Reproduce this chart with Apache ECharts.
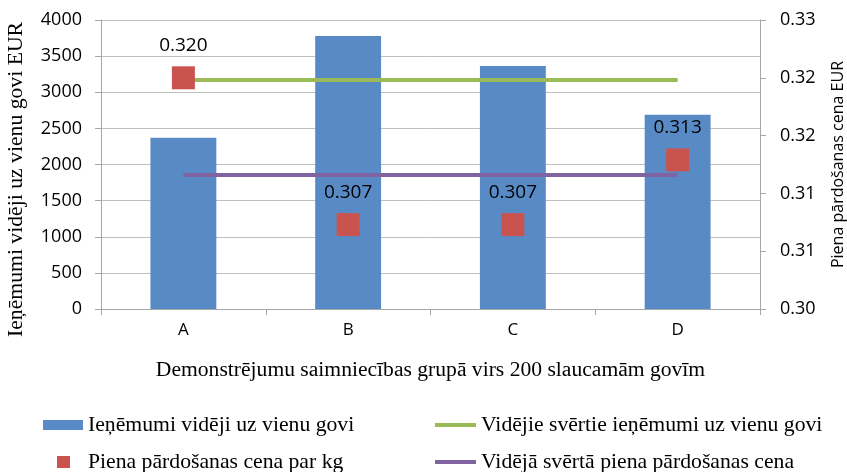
<!DOCTYPE html>
<html>
<head>
<meta charset="utf-8">
<script src="https://cdn.jsdelivr.net/npm/echarts@6/dist/echarts.min.js"></script>
<style>html,body{margin:0;padding:0;background:#fff;}#c{width:847px;height:472px;}</style>
</head>
<body>
<div id="c"></div>
<script>
const categories = ['A', 'B', 'C', 'D'];
const revenue = [2370, 3780, 3363, 2688];
const price = [0.3200, 0.3073, 0.3073, 0.3129];
const avgRevenue = [3170, 3170, 3170, 3170];
const avgPrice = [0.3116, 0.3116, 0.3116, 0.3116];
const rightTickLabels = ['0.30', '0.31', '0.31', '0.32', '0.32', '0.33'];

const names = {
  bar: 'Ieņēmumi vidēji uz vienu govi',
  scatter: 'Piena pārdošanas cena par kg',
  avgRev: 'Vidējie svērtie ieņēmumi uz vienu govi',
  avgPrice: 'Vidējā svērtā piena pārdošanas cena'
};

const serif = '"Liberation Serif", "Times New Roman", serif';
const sans = '"Open Sans", "Liberation Sans", sans-serif';
const legendText = { fontFamily: serif, fontSize: 21.7, color: '#000' };

const chart = echarts.init(document.getElementById('c'), null, { renderer: 'canvas' });
chart.setOption({
  animation: false,
  backgroundColor: '#fff',
  grid: { left: 101, right: 87, top: 20, bottom: 163, containLabel: false, outerBoundsMode: 'none' },
  legend: [
    { data: [names.bar], left: 43, top: 414, padding: 0, itemWidth: 40, itemHeight: 10, textStyle: legendText, icon: 'rect' },
    { data: [names.avgRev], left: 435, top: 414, padding: 0, itemWidth: 41, itemHeight: 4, textStyle: legendText, icon: 'rect' },
    { data: [names.scatter], left: 57, top: 451, padding: 0, itemWidth: 13, itemHeight: 12, textStyle: Object.assign({}, legendText, { padding: [0, 0, 0, 13] }), icon: 'rect' },
    { data: [names.avgPrice], left: 435, top: 451, padding: 0, itemWidth: 41, itemHeight: 4, textStyle: legendText, icon: 'rect' }
  ],
  xAxis: {
    type: 'category',
    data: categories,
    name: 'Demonstrējumu saimniecības grupā virs 200 slaucamām govīm',
    nameLocation: 'middle',
    nameGap: 50,
    nameTextStyle: { fontFamily: serif, fontSize: 21.6, color: '#000' },
    axisLine: { lineStyle: { color: '#A6A6A6', width: 1 } },
    axisTick: { show: true, length: 6, lineStyle: { color: '#A6A6A6' } },
    axisLabel: { fontFamily: sans, fontSize: 17, color: '#000', margin: 13 }
  },
  yAxis: [
    {
      type: 'value', min: 0, max: 4000, interval: 500,
      name: 'Ieņēmumi vidēji uz vienu govi EUR',
      nameLocation: 'middle', nameGap: 74, nameRotate: 90,
      nameTextStyle: { fontFamily: serif, fontSize: 21.7, color: '#000', padding: [0, 30, 0, 0] },
      axisLine: { show: true, lineStyle: { color: '#A6A6A6' } },
      axisTick: { show: true, length: 6, lineStyle: { color: '#A6A6A6' } },
      axisLabel: { fontFamily: sans, fontSize: 18, color: '#000', margin: 19, formatter: v => String(v) },
      splitLine: { lineStyle: { color: '#BFBFBF', width: 1 } }
    },
    {
      type: 'value', min: 0.3, max: 0.325, interval: 0.005, position: 'right',
      name: 'Piena pārdošanas cena EUR',
      nameLocation: 'middle', nameGap: 70, nameRotate: 90,
      nameTextStyle: { fontFamily: sans, fontSize: 16, color: '#000' },
      axisLine: { show: true, lineStyle: { color: '#A6A6A6' } },
      axisTick: { show: true, length: 6, lineStyle: { color: '#A6A6A6' } },
      axisLabel: {
        fontFamily: sans, fontSize: 18, color: '#000', margin: 20,
        formatter: v => rightTickLabels[Math.round((v - 0.3) / 0.005)]
      },
      splitLine: { show: false }
    }
  ],
  series: [
    {
      name: names.bar, type: 'bar', data: revenue, yAxisIndex: 0,
      barWidth: '40%', itemStyle: { color: '#588BC6' }, z: 1
    },
    {
      name: names.avgRev, type: 'line', data: avgRevenue, yAxisIndex: 0,
      symbol: 'none', lineStyle: { color: '#9BBB59', width: 4 }, itemStyle: { color: '#9BBB59' }, z: 3
    },
    {
      name: names.avgPrice, type: 'line', data: avgPrice, yAxisIndex: 1,
      symbol: 'none', lineStyle: { color: '#8064A2', width: 4 }, itemStyle: { color: '#8064A2' }, z: 3
    },
    {
      name: names.scatter, type: 'scatter', data: price, yAxisIndex: 1,
      symbol: 'rect', symbolSize: 23, itemStyle: { color: '#C9534F', opacity: 1 }, z: 5,
      label: {
        show: true, position: 'top', distance: 11,
        fontFamily: sans, fontSize: 19, color: '#000', opacity: 1,
        formatter: p => p.value.toFixed(3)
      }
    }
  ]
});
</script>
</body>
</html>
